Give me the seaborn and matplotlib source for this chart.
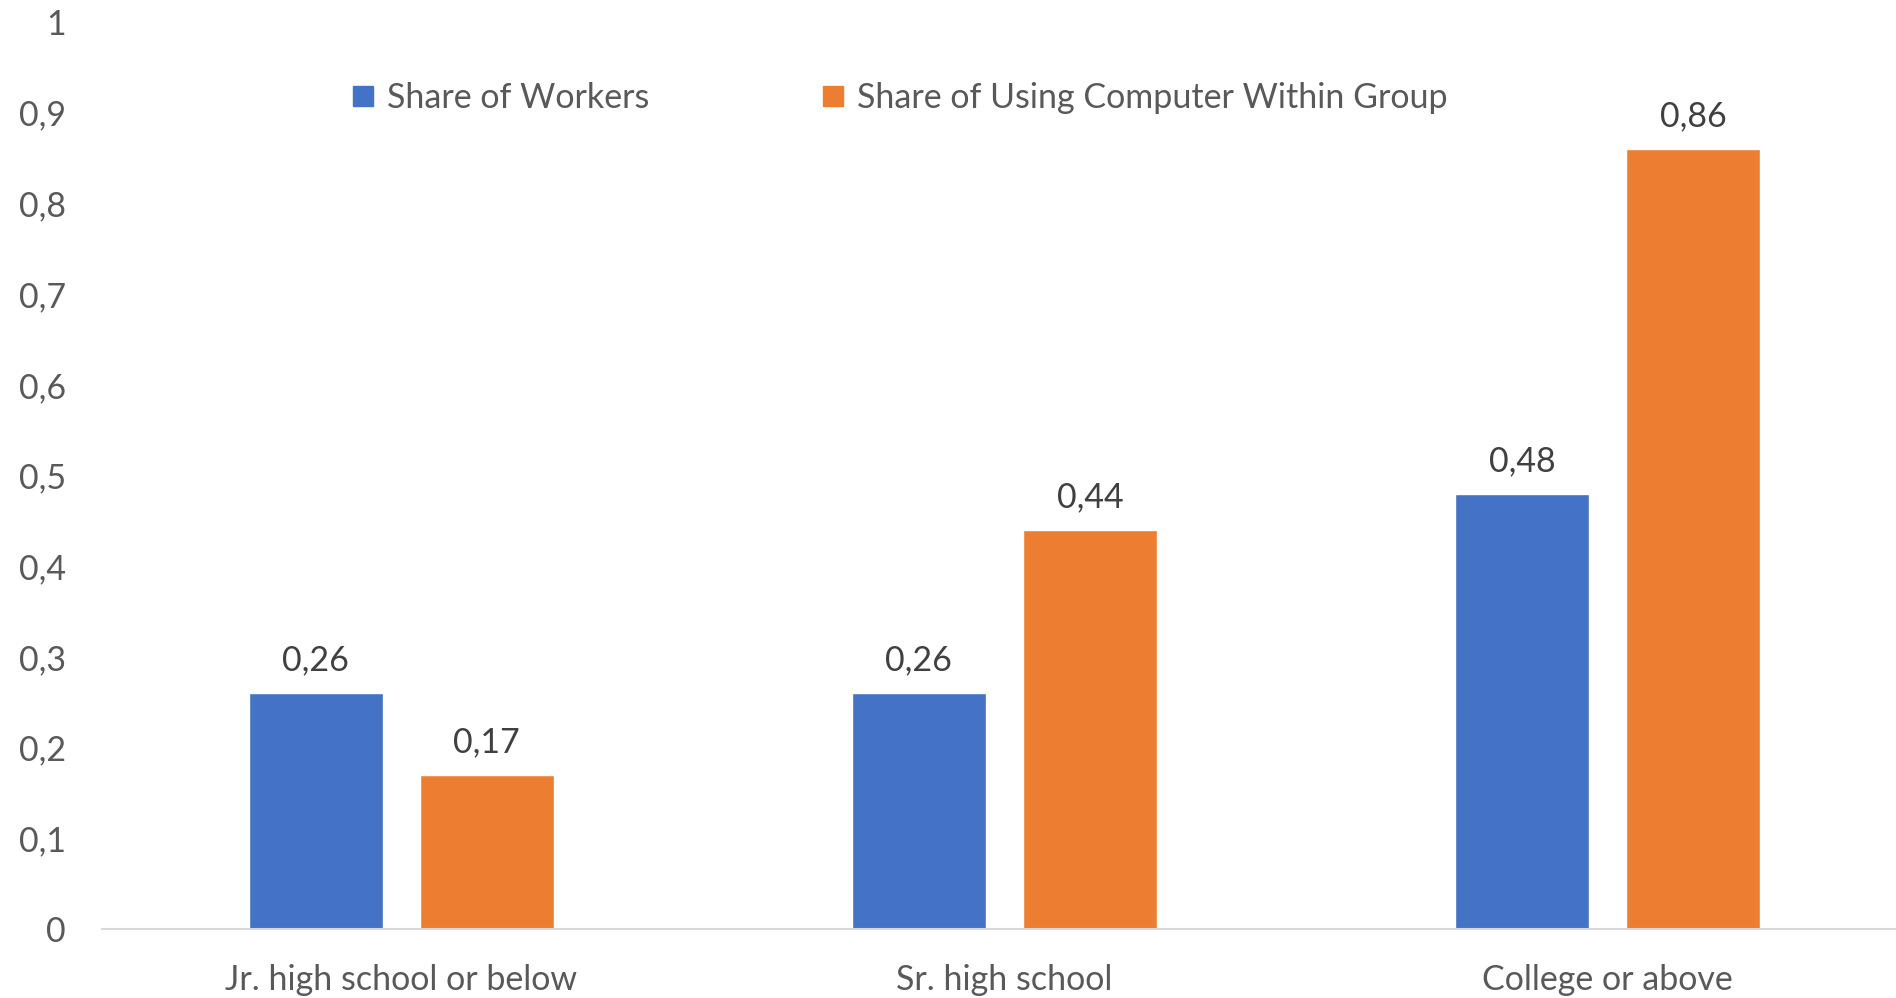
import pandas as pd
import matplotlib
matplotlib.use('Agg')
import matplotlib.pyplot as plt
import matplotlib.ticker as mticker
from matplotlib.lines import Line2D
import seaborn as sns

# data
categories = ['Jr. high school or below', 'Sr. high school', 'College or above']
share_workers = [0.26, 0.26, 0.48]
share_computer = [0.17, 0.44, 0.86]
series = ['Share of Workers', 'Share of Using Computer Within Group']
colors = ['#4472C4', '#ED7D31']

df = pd.DataFrame({
    'cat': categories * 2,
    'value': share_workers + share_computer,
    'series': [series[0]] * 3 + [series[1]] * 3,
})

sns.set_theme(style='white')
plt.rcParams['font.family'] = ['Lato', 'DejaVu Sans']

fig = plt.figure(figsize=(18.96, 9.98), dpi=100)
ax = fig.add_axes([0.0538, 0.069, 0.9462, 0.909])

sns.barplot(
    data=df, x='cat', y='value', hue='series',
    palette=colors, width=0.568, gap=0.218,
    saturation=1, ax=ax, legend=False,
)

for c in ax.containers:
    ax.bar_label(
        c, labels=[f'{v:.2f}'.replace('.', ',') for v in c.datavalues],
        padding=12, fontsize=24.5, color='#404040',
    )

ax.set_xlim(-0.496, 2.478)
ax.set_ylim(0, 1)
ax.yaxis.set_major_locator(mticker.MultipleLocator(0.1))
ax.yaxis.set_major_formatter(mticker.FuncFormatter(
    lambda v, p: ('%g' % round(v, 1)).replace('.', ',')))
ax.tick_params(axis='y', length=0, pad=26, labelsize=24.5, labelcolor='#595959')
ax.tick_params(axis='x', length=0, pad=25, labelsize=24.5, labelcolor='#595959')
ax.set_xlabel('')
ax.set_ylabel('')

for s in ['top', 'right', 'left']:
    ax.spines[s].set_visible(False)
ax.spines['bottom'].set_color('#D9D9D9')
ax.spines['bottom'].set_linewidth(1.5)

handles = [Line2D([], [], marker='s', linestyle='', markersize=14,
                  markerfacecolor=c, markeredgecolor=c) for c in colors]
ax.legend(handles, series, loc='center', bbox_to_anchor=(0.444, 0.916),
          ncol=2, frameon=False, fontsize=24.5, labelcolor='#595959',
          handletextpad=0.3, columnspacing=5.0, handlelength=0.8)

fig.savefig('out.png', dpi=100)
